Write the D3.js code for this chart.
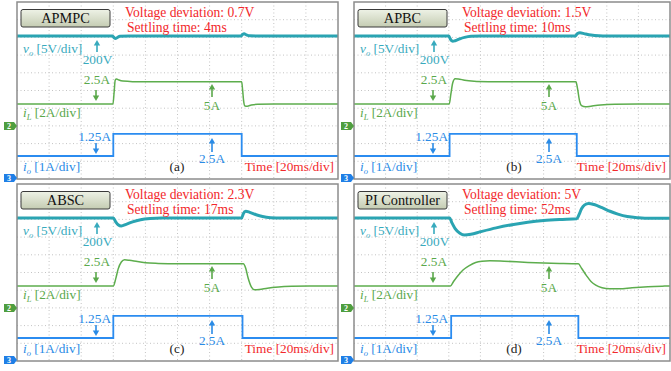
<!DOCTYPE html>
<html>
<head>
<meta charset="utf-8">
<script src="https://cdn.jsdelivr.net/npm/d3@7"></script>
<style>
  html, body { margin: 0; padding: 0; background: #fff; }
  svg { display: block; }
  svg text { font-family: "Liberation Serif", "Times New Roman", serif; }
</style>
</head>
<body>
<svg id="chart" width="671" height="371"></svg>
<script>
// Screen time span: 10 divisions of 20 ms
const timeDomain = [0, 200];

const panelTitles   = ["APMPC", "APBC", "ABSC", "PI Controller"];
const deviations    = ["0.7V", "1.5V", "2.3V", "5V"];
const settlingTimes = ["4ms", "10ms", "17ms", "52ms"];
const panelLetters  = ["(a)", "(b)", "(c)", "(d)"];

// Channel level annotations
const voLevel = "200V";
const ilLevels = ["2.5A", "5A"];
const ioLevels = ["1.25A", "2.5A"];
const channelNames = { vo: ["v", "o", " [5V/div]"], il: ["i", "L", " [2A/div]"], io: ["i", "o", " [1A/div]"] };
const timeLabel = "Time [20ms/div]";

// Output voltage vo [V], points as [t ms, value]
const voA = [[0,200],[59.5,200],[60.5,199.5],[61.5,199.3],[63,199.7],[64,199.95],[70,200],[139.5,200],[140.5,200.4],[141.5,200.6],[143,200.3],[145,200.05],[150,200],[200,200]];
const voB = [[0,200],[60,200],[61,199.1],[62.5,198.5],[64,198.65],[67,199.2],[70,199.6],[74,199.9],[80,200],[140,200],[141.5,200.7],[143,200.9],[146,200.6],[150,200.25],[155,200.05],[160,200],[200,200]];
const voC = [[0,200],[60,200],[61.5,198.9],[63,198.1],[65,197.75],[68,198.2],[72,198.9],[77,199.5],[83,199.85],[90,200],[140,200],[141,201.2],[142.5,201.9],[145,201.6],[149,200.9],[153,200.4],[158,200.1],[165,200],[200,200]];
const voD = [[0,200],[60.5,200],[62,198.6],[64,197],[67,195.7],[70,195.2],[74,195.4],[80,196.1],[90,197.2],[100,198.1],[110,198.8],[120,199.3],[130,199.6],[141,199.8],[142.5,201],[144,202.6],[146,203.7],[148.5,204.1],[152,203.8],[157,202.9],[162,201.9],[167,201.1],[173,200.4],[180,200.05],[188,199.9],[200,199.95]];

// Inductor current iL [A]
const ilA = [[0,2.5],[59.8,2.5],[60.5,3.8],[61.2,5.2],[62,5.32],[63.5,5.2],[66,5.08],[72,5.02],[90,5],[140,5],[140.6,4.0],[141.3,2.7],[142,2.28],[143.5,2.25],[146,2.38],[150,2.46],[160,2.5],[200,2.5]];
const ilB = [[0,2.5],[60.3,2.5],[61.3,3.6],[62.5,4.9],[64,5.35],[66,5.33],[70,5.18],[76,5.07],[85,5.02],[100,5],[140.5,5],[141.5,4.2],[142.8,2.8],[144,2.3],[146.5,2.17],[150,2.25],[156,2.38],[165,2.47],[180,2.5],[200,2.5]];
const ilC = [[0,2.5],[60,2.5],[61.5,3.3],[63,4.4],[65,5.2],[67,5.45],[70,5.4],[75,5.25],[80,5.13],[88,5.05],[100,5],[141,5],[142.5,4.5],[144,3.4],[146,2.4],[148,2.07],[151,2.1],[156,2.25],[163,2.38],[171,2.46],[182,2.5],[200,2.5]];
const ilD = [[0,2.5],[61,2.5],[63,3.0],[66,3.7],[69,4.3],[73,4.8],[77,5.15],[81,5.3],[86,5.36],[95,5.3],[110,5.16],[125,5.06],[142,5.0],[144,4.5],[147,3.7],[150,3.0],[153,2.6],[157,2.3],[162,2.18],[168,2.17],[176,2.3],[186,2.42],[195,2.48],[200,2.5]];

// Load current io [A]
const ioA = [[0,1.25],[60,1.25],[60,2.5],[140,2.5],[140,1.25],[200,1.25]];
const ioB = [[0,1.25],[60.5,1.25],[60.5,2.5],[141,2.5],[141,1.25],[200,1.25]];
const ioC = [[0,1.25],[60,1.25],[60,2.5],[140.5,2.5],[140.5,1.25],[200,1.25]];
const ioD = [[0,1.25],[61.5,1.25],[61.5,2.5],[142,2.5],[142,1.25],[200,1.25]];

const voSeries = [voA, voB, voC, voD];
const ilSeries = [ilA, ilB, ilC, ilD];
const ioSeries = [ioA, ioB, ioC, ioD];

// Screen frames
const frames = [
  { x: 17,  y: 2,   w: 321, h: 177 },
  { x: 354, y: 2,   w: 316, h: 177 },
  { x: 17,  y: 184, w: 321, h: 177 },
  { x: 354, y: 184, w: 316, h: 177 }
];

const colors = {
  vo: "#2aa4b2", voText: "#38aabd",
  il: "#5dad4d", ilText: "#5aa84a",
  io: "#2b8cf0", ioText: "#2a8be6",
  red: "#f2282b", frame: "#8c8c8c", grid: "#c4c4c4",
  mark2: "#4f9e3f", mark3: "#1f7fe6"
};
const serif = "'Liberation Serif', 'Times New Roman', serif";

const svg = d3.select("#chart");

const defs = svg.append("defs");
const grad = defs.append("linearGradient").attr("id", "titleFill")
  .attr("x1", 0).attr("y1", 0).attr("x2", 0).attr("y2", 1);
grad.append("stop").attr("offset", "0%").attr("stop-color", "#eef2e6");
grad.append("stop").attr("offset", "100%").attr("stop-color", "#c4ccb2");

function arrow(g, x, yHead, yTail, color) {
  const dir = yTail > yHead ? 1 : -1;
  g.append("line")
    .attr("x1", x).attr("x2", x)
    .attr("y1", yHead + dir * 4).attr("y2", yTail)
    .attr("stroke", color).attr("stroke-width", 1.6);
  g.append("path")
    .attr("d", `M${x - 3.2},${yHead + dir * 5.5}L${x},${yHead}L${x + 3.2},${yHead + dir * 5.5}Z`)
    .attr("fill", color);
}

function text(g, x, y, str, size, color, anchor) {
  return g.append("text").attr("x", x).attr("y", y)
    .attr("font-family", serif).attr("font-size", size)
    .attr("fill", color).attr("text-anchor", anchor || "start").text(str);
}

function channelLabel(g, x, y, parts, color) {
  const t = g.append("text").attr("x", x).attr("y", y)
    .attr("font-family", serif).attr("fill", color).attr("font-size", 13.3);
  t.append("tspan").attr("font-style", "italic").text(parts[0]);
  t.append("tspan").attr("font-style", "italic").attr("font-size", 8.5).attr("dy", 2.5).text(parts[1]);
  t.append("tspan").attr("dy", -2.5).text(parts[2]);
}

function marker(x, yc, color, label) {
  svg.append("path")
    .attr("d", `M${x - 13},${yc - 4}L${x - 3},${yc - 4}L${x},${yc}L${x - 3},${yc + 4}L${x - 13},${yc + 4}Z`)
    .attr("fill", color);
  svg.append("text").attr("x", x - 8).attr("y", yc + 3)
    .attr("text-anchor", "middle").attr("font-size", 8).attr("font-weight", "bold")
    .attr("font-family", "'DejaVu Sans', sans-serif")
    .attr("fill", "#fff").text(label);
}

frames.forEach((f, i) => {
  const g = svg.append("g").attr("transform", `translate(${f.x},${f.y})`);
  const div = f.h / 10;

  const x = d3.scaleLinear().domain(timeDomain).range([0, f.w]);
  // Channel positions on screen: value at top edge / bottom edge
  const yVo = d3.scaleLinear().domain([200 + 1.92 * 5, 200 - (10 - 1.92) * 5]).range([0, f.h]);
  const yIl = d3.scaleLinear().domain([2.5 + 5.76 * 2, 2.5 - (10 - 5.76) * 2]).range([0, f.h]);
  const yIo = d3.scaleLinear().domain([1.25 + 8.7 * 1, 1.25 - (10 - 8.7) * 1]).range([0, f.h]);

  g.append("rect").attr("width", f.w).attr("height", f.h).attr("fill", "#fff");

  // Dotted graticule
  const grid = g.append("g").attr("stroke", colors.grid).attr("stroke-width", 1)
    .attr("stroke-dasharray", "1,2.5");
  d3.range(1, 10).forEach(k => {
    grid.append("line").attr("x1", x(k * 20)).attr("x2", x(k * 20)).attr("y1", 0).attr("y2", f.h);
    grid.append("line").attr("x1", 0).attr("x2", f.w).attr("y1", k * div).attr("y2", k * div);
  });

  // Traces
  const smooth = (ys) => d3.line().x(d => x(d[0])).y(d => ys(d[1])).curve(d3.curveMonotoneX);
  const step = (ys) => d3.line().x(d => x(d[0])).y(d => ys(d[1]));
  g.append("path").datum(ioSeries[i]).attr("d", step(yIo))
    .attr("fill", "none").attr("stroke", colors.io).attr("stroke-width", 1.8);
  g.append("path").datum(ilSeries[i]).attr("d", smooth(yIl))
    .attr("fill", "none").attr("stroke", colors.il).attr("stroke-width", 1.5);
  g.append("path").datum(voSeries[i]).attr("d", smooth(yVo))
    .attr("fill", "none").attr("stroke", colors.vo).attr("stroke-width", 3);

  // Title box
  g.append("rect").attr("x", 4).attr("y", 7.5).attr("width", 89).attr("height", 17.5).attr("rx", 2)
    .attr("fill", "url(#titleFill)").attr("stroke", "#3a3a3a").attr("stroke-width", 1);
  text(g, 48.5, 21, panelTitles[i], 14.3, "#111", "middle");

  // Transient figures
  text(g, 108, 14.5, "Voltage deviation: " + deviations[i], 13.6, colors.red);
  text(g, 110, 29.5, "Settling time: " + settlingTimes[i], 13.6, colors.red);

  // Channel names
  channelLabel(g, 6, 51, channelNames.vo, colors.voText);
  channelLabel(g, 6, 115, channelNames.il, colors.ilText);
  channelLabel(g, 6, 169, channelNames.io, colors.ioText);

  // Level annotations
  arrow(g, 80, 38, 50, colors.voText);
  text(g, 80.5, 62, voLevel, 13.3, colors.voText, "middle");

  text(g, 93, 82, ilLevels[0], 13.3, colors.ilText, "end");
  arrow(g, 79, 99, 88, colors.ilText);
  arrow(g, 195, 82, 95, colors.ilText);
  text(g, 195, 108, ilLevels[1], 13.3, colors.ilText, "middle");

  text(g, 94, 139, ioLevels[0], 13.3, colors.ioText, "end");
  arrow(g, 79, 152, 141, colors.ioText);
  arrow(g, 195, 136, 150, colors.ioText);
  text(g, 195, 161, ioLevels[1], 13.3, colors.ioText, "middle");

  text(g, 160, 169, panelLetters[i], 13.3, "#222", "middle");
  text(g, f.w - 4, 169, timeLabel, 13.3, colors.red, "end");

  // Frame
  g.append("rect").attr("width", f.w).attr("height", f.h).attr("fill", "none")
    .attr("stroke", colors.frame).attr("stroke-width", 1.5);

  // Channel ground markers
  marker(f.x, f.y + 124, colors.mark2, "2");
  marker(f.x, f.y + 176, colors.mark3, "3");
});
</script>
</body>
</html>
